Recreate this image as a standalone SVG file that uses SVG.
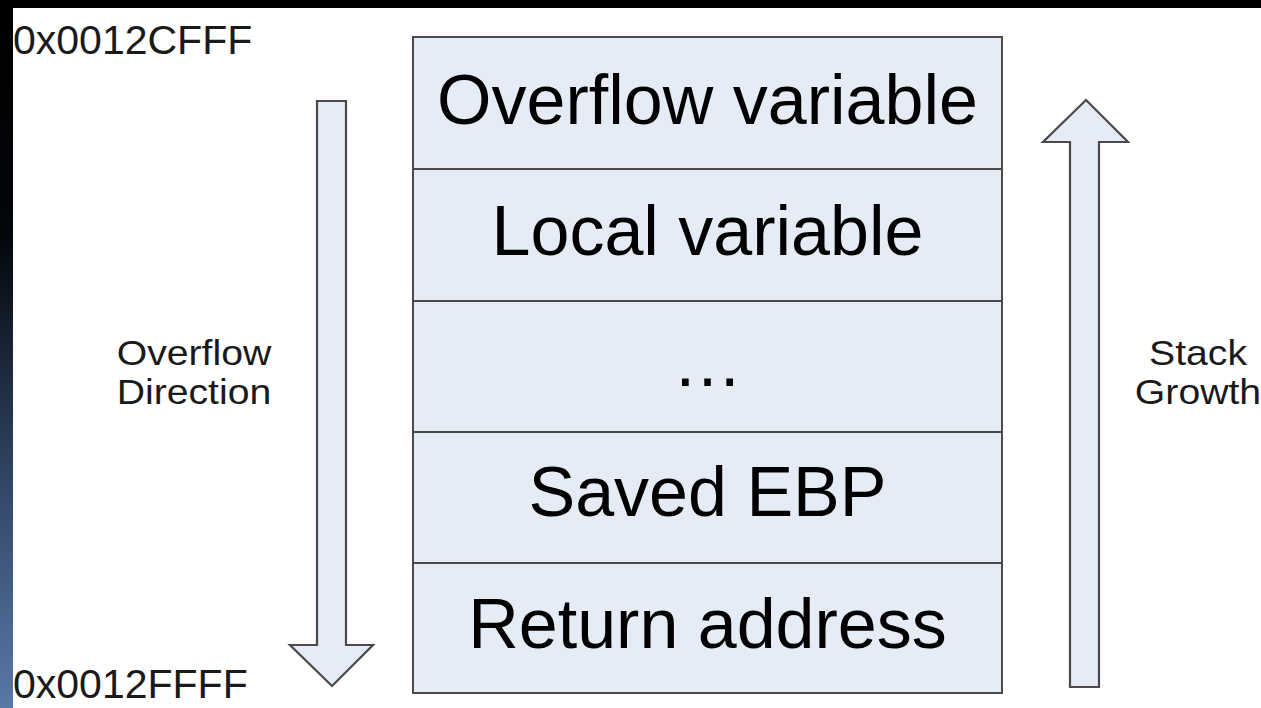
<svg xmlns="http://www.w3.org/2000/svg" width="1261" height="708" viewBox="0 0 1261 708">
  <defs>
    <linearGradient id="edge" x1="0" y1="0" x2="0" y2="708" gradientUnits="userSpaceOnUse">
      <stop offset="0" stop-color="#000000"/>
      <stop offset="0.33" stop-color="#03060a"/>
      <stop offset="0.7" stop-color="#34496a"/>
      <stop offset="1" stop-color="#5a78a6"/>
    </linearGradient>
    <style>
      .cell { fill: #e5ecf6; stroke: #4a4a4a; stroke-width: 2; }
      .arrow { fill: #e5ecf6; stroke: #4a4a4a; stroke-width: 2.2; stroke-linejoin: miter; }
      .big { font-family: "Liberation Sans", Arial, sans-serif; font-size: 70px; fill: #000; text-anchor: middle; }
      .addr { font-family: "Liberation Sans", Arial, sans-serif; font-size: 41px; fill: #1a1a1a; }
      .note { font-family: "Liberation Sans", Arial, sans-serif; font-size: 35px; fill: #1a1a1a; text-anchor: middle; }
    </style>
  </defs>

  <!-- slide frame -->
  <rect x="0" y="0" width="1261" height="708" fill="#000"/>
  <rect x="0" y="0" width="13" height="708" fill="url(#edge)"/>
  <rect x="13" y="8" width="1248" height="700" fill="#ffffff"/>

  <!-- address labels -->
  <g id="addr-top"><text class="addr" x="13" y="54">0x0012CFFF</text></g>
  <g id="addr-bottom"><text class="addr" x="13" y="698">0x0012FFFF</text></g>

  <!-- stack frame cells -->
  <g id="cell-overflow">
    <rect class="cell" x="413" y="37" width="589" height="132"/>
    <text class="big" x="707.5" y="124">Overflow variable</text>
  </g>
  <g id="cell-local">
    <rect class="cell" x="413" y="169" width="589" height="132"/>
    <text class="big" x="707.5" y="255">Local variable</text>
  </g>
  <g id="cell-gap">
    <rect class="cell" x="413" y="301" width="589" height="131"/>
    <text class="big" x="707.5" y="386">…</text>
  </g>
  <g id="cell-ebp">
    <rect class="cell" x="413" y="432" width="589" height="131"/>
    <text class="big" x="707.5" y="516">Saved EBP</text>
  </g>
  <g id="cell-ret">
    <rect class="cell" x="413" y="563" width="589" height="130"/>
    <text class="big" x="707.5" y="648">Return address</text>
  </g>

  <!-- direction arrows -->
  <g id="connectors">
    <path id="arrow-overflow" class="arrow" d="M317,101 L346,101 L346,645 L373,645 L332,686 L290,645 L317,645 Z"/>
    <path id="arrow-growth" class="arrow" d="M1070,687 L1099,687 L1099,142 L1128,142 L1086,100 L1043,142 L1070,142 Z"/>
  </g>

  <!-- arrow captions -->
  <g id="label-overflow">
    <text class="note" transform="translate(194,365) scale(1.12,1)">Overflow</text>
    <text class="note" transform="translate(194,404) scale(1.12,1)">Direction</text>
  </g>
  <g id="label-growth">
    <text class="note" transform="translate(1198,365) scale(1.12,1)">Stack</text>
    <text class="note" transform="translate(1198,404) scale(1.12,1)">Growth</text>
  </g>
</svg>
